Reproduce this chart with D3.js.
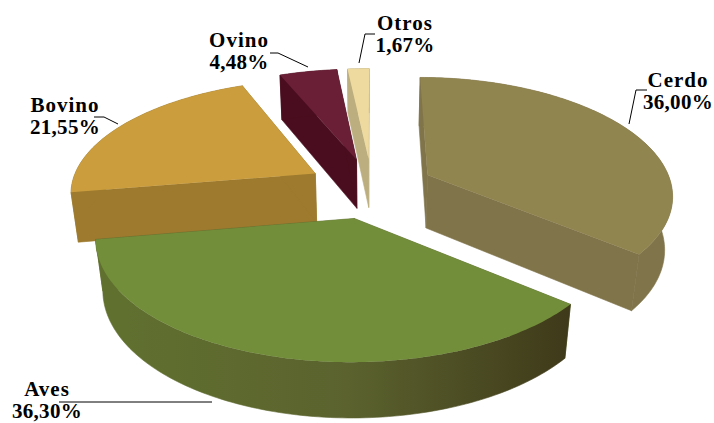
<!DOCTYPE html>
<html>
<head>
<meta charset="utf-8">
<script src="https://cdn.jsdelivr.net/npm/d3@7"></script>
<style>
  html, body { margin: 0; padding: 0; background: #fff; }
  text { font-family: "Liberation Serif", serif; font-weight: bold; font-size: 21px; fill: #000; text-anchor: middle; }
  .nombre { letter-spacing: 1px; }
  .valor { letter-spacing: 0.3px; }
</style>
</head>
<body>
<div id="pie"></div>
<script>
// Datos
const categorias = ["Cerdo", "Aves", "Bovino", "Ovino", "Otros"];
const valores = [36.00, 36.30, 21.55, 4.48, 1.67];
const coloresTapa = ["#90844f", "#728e3a", "#cb9d3d", "#6a1f36", "#eeda9f"];
const coloresLado = ["#80744a", "#5f6e30", "#9d7a2e", "#4a0d1f", "#bcae7e"];
const degradadoAves = ["#60702f", "#5b622e", "#3f3a1a"];

// Etiquetas: posicion del texto y linea guia
const posEtiquetas = [[678, 87], [47, 396], [65, 112], [239, 47], [405, 30]];
const guias = [
  [[629, 124], [636, 90], [647, 90]],
  [[59, 402], [212, 402]],
  [[118, 124], [104, 117], [94, 117]],
  [[270, 53], [278, 53], [308, 67]],
  [[359, 63], [365, 34], [375, 34]]
];

// Configuracion
const width = 714, height = 423;
const centro = {x: 372, y: 188};
const radio = 245, alto = 112, grosor = 51;
const fuga = 0.15, fugaZ = 0.025;
const separacion = [0.255, 0.27, 0.27, 0.27, 0.27];
const ajusteFondo = [0.01, 0, 0, 0, 0];
const estiraFondo = [1.04, 1, 1, 1, 1];
const estiraGrosor = [1.08, 1, 1, 1, 1];

const fmt = d3.formatLocale({decimal: ",", thousands: ".", grouping: [3], currency: ["", ""]}).format(".2f");

const escalaX = d3.scaleLinear().domain([0, 1]).range([0, radio]);
const escalaY = d3.scaleLinear().domain([0, 1]).range([0, -alto]);
const escalaZ = d3.scaleLinear().domain([0, 1]).range([0, grosor]);

// Proyeccion en perspectiva: y hacia el fondo, z hacia abajo
function proyecta(x, y, z) {
  const s = 1 / (1 + fuga * y + fugaZ * z);
  return [centro.x + escalaX(x) * s, centro.y + (escalaY(y) + escalaZ(z)) * s];
}

const arcos = d3.pie().value(d => d).sort(null).startAngle(0).endAngle(2 * Math.PI)(valores);

const svg = d3.select("#pie").append("svg")
  .attr("width", width)
  .attr("height", height)
  .style("display", "block");

const grad = svg.append("defs").append("linearGradient")
  .attr("id", "ladoAves")
  .attr("gradientUnits", "userSpaceOnUse")
  .attr("x1", proyecta(-1, 0, 0)[0]).attr("x2", proyecta(0.8, 0, 0)[0])
  .attr("y1", 0).attr("y2", 0);
grad.selectAll("stop").data(degradadoAves).enter().append("stop")
  .attr("offset", (d, i) => i / (degradadoAves.length - 1))
  .attr("stop-color", d => d);

const linea = d3.line();

const rebanadas = arcos.map((a, i) => {
  const medio = (a.startAngle + a.endAngle) / 2;
  const ox = separacion[i] * Math.sin(medio), oy = separacion[i] * Math.cos(medio) + ajusteFondo[i];
  const n = Math.ceil((a.endAngle - a.startAngle) / 0.02);
  const angulos = d3.range(n + 1).map(k => a.startAngle + (a.endAngle - a.startAngle) * k / n);
  const borde = z => angulos.map(t => proyecta(ox + Math.sin(t), oy + estiraFondo[i] * Math.cos(t), z * estiraGrosor[i]));
  return {
    i: i,
    oy: oy,
    vertice: z => proyecta(ox, oy, z * estiraGrosor[i]),
    borde: borde
  };
});

// Se pinta de atras hacia adelante
const capas = rebanadas.slice().sort((a, b) => d3.descending(a.oy, b.oy));
const g = svg.append("g");

capas.forEach(r => {
  const lado = r.i === 1 ? "url(#ladoAves)" : coloresLado[r.i];
  const arriba = r.borde(0), abajo = r.borde(1);
  const v0 = r.vertice(0), v1 = r.vertice(1);

  // paredes rectas
  [[arriba[0], abajo[0]], [arriba[arriba.length - 1], abajo[abajo.length - 1]]].forEach(p => {
    g.append("path")
      .attr("d", linea([v0, p[0], p[1], v1]) + "Z")
      .attr("fill", coloresLado[r.i])
      .attr("stroke", coloresLado[r.i])
      .attr("stroke-width", 0.6);
  });
  // pared curva
  g.append("path")
    .attr("d", linea(arriba.concat(abajo.slice().reverse())) + "Z")
    .attr("fill", lado)
    .attr("stroke", lado)
    .attr("stroke-width", 0.6);
  // tapa
  g.append("path")
    .attr("d", linea([v0].concat(arriba)) + "Z")
    .attr("fill", coloresTapa[r.i]);
});

// Lineas guia
svg.selectAll(".guia").data(guias).enter().append("path")
  .attr("class", "guia")
  .attr("d", d => linea(d))
  .attr("fill", "none")
  .attr("stroke", "#000")
  .attr("stroke-width", 1);

// Etiquetas
const etiquetas = svg.selectAll(".etiqueta").data(categorias).enter().append("g")
  .attr("class", "etiqueta")
  .attr("transform", (d, i) => `translate(${posEtiquetas[i][0]},${posEtiquetas[i][1]})`);
etiquetas.append("text").attr("class", "nombre").text(d => d);
etiquetas.append("text").attr("class", "valor").attr("y", 22).text((d, i) => fmt(valores[i]) + "%");
</script>
</body>
</html>
